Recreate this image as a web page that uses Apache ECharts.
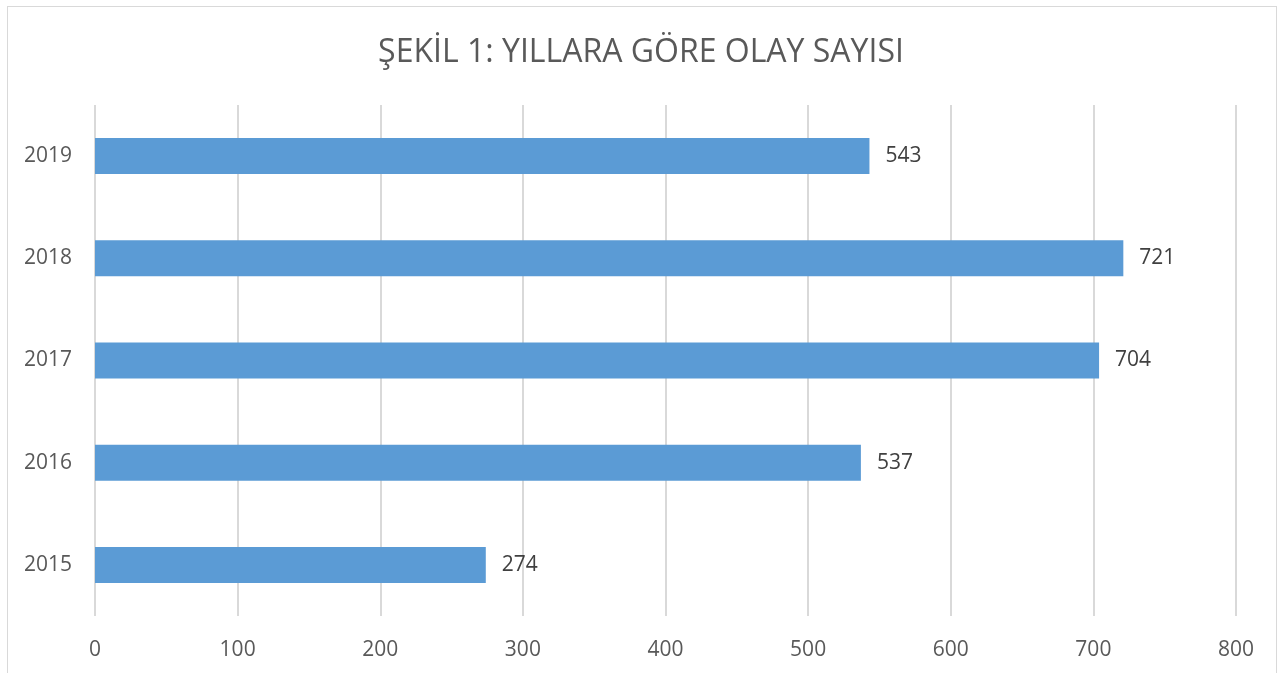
<!DOCTYPE html>
<html>
<head>
<meta charset="utf-8">
<script src="https://cdn.jsdelivr.net/npm/echarts@6/dist/echarts.min.js"></script>
<style>
    html, body { margin: 0; padding: 0; background: #fff; }
    #frame { position: absolute; left: 7px; top: 6px; width: 1270px; height: 680px; border: 1px solid #d9d9d9; box-sizing: border-box; }
    #main { position: absolute; left: 0; top: 0; width: 1282px; height: 673px; }
</style>
</head>
<body>
<div id="frame"></div>
<div id="main"></div>
<script>
var years = ['2015', '2016', '2017', '2018', '2019'];
var counts = [274, 537, 704, 721, 543];
var xTicks = [0, 800, 100]; // min, max, interval

var textColor = '#595959';
var fontName = '"Open Sans", "DejaVu Sans", sans-serif';

// 基于准备好的dom，初始化echarts实例
var myChart = echarts.init(document.getElementById('main'));

var option = {
    animation: false,
    title: {
        text: 'ŞEKİL 1: YILLARA GÖRE OLAY SAYISI',
        left: 'center',
        top: 32,
        textStyle: { color: textColor, fontSize: 32, fontWeight: 'normal', fontFamily: fontName }
    },
    grid: { left: 95, right: 46, top: 105, bottom: 57 },
    xAxis: {
        type: 'value',
        min: xTicks[0],
        max: xTicks[1],
        interval: xTicks[2],
        axisLine: { show: false },
        axisTick: { show: false },
        splitLine: { lineStyle: { color: '#d9d9d9', width: 2 } },
        axisLabel: { color: textColor, fontSize: 21, fontFamily: fontName, margin: 24 }
    },
    yAxis: {
        type: 'category',
        data: years,
        axisLine: { show: false },
        axisTick: { show: false },
        axisLabel: { color: textColor, fontSize: 21, fontFamily: fontName, margin: 23 }
    },
    series: [{
        type: 'bar',
        data: counts,
        barWidth: 36,
        itemStyle: { color: '#5b9bd5' },
        label: {
            show: true,
            position: 'right',
            distance: 16,
            color: '#404040',
            fontSize: 21,
            fontFamily: fontName
        }
    }]
};
myChart.setOption(option);
</script>
</body>
</html>
